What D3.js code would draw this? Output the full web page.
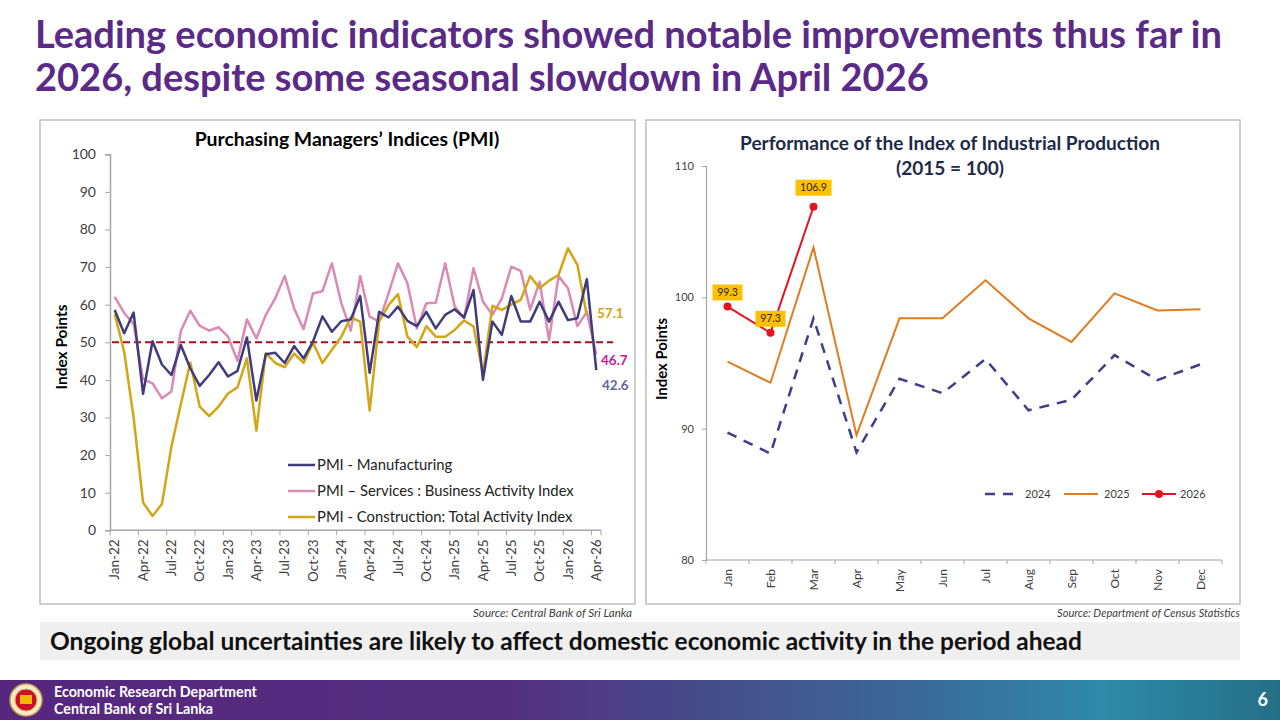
<!DOCTYPE html>
<html>
<head>
<meta charset="utf-8">
<script src="https://cdn.jsdelivr.net/npm/d3@7"></script>
<style>
  body { margin: 0; background: #fff; }
  svg { display: block; font-family: Lato, "Open Sans", sans-serif; }
</style>
</head>
<body>
<div id="slide"></div>
<script>
//PMI data, Jan-22 to Apr-26
var pmiMonths = [];
var monNames = ["Jan","Feb","Mar","Apr","May","Jun","Jul","Aug","Sep","Oct","Nov","Dec"];
for (var yr = 22; yr <= 26; yr++) {
  for (var m = 0; m < 12; m++) {
    if (yr == 26 && m > 3) break;
    pmiMonths.push(monNames[m] + "-" + yr);
  }
}
var pmiManufacturing = [58.6, 52.4, 57.9, 36.3, 50.3, 44.1, 41.3, 49.3, 43.1, 38.4, 41.3, 44.7,
  40.9, 42.4, 51.3, 34.5, 46.8, 47.2, 44.5, 49.0, 45.7, 50.2, 56.9, 52.8,
  55.6, 56.1, 62.3, 41.9, 58.1, 56.6, 59.5, 55.7, 54.3, 58.1, 53.7, 57.3,
  58.8, 56.6, 63.9, 40.0, 55.5, 52.0, 62.3, 55.5, 55.5, 60.8, 55.5, 60.8,
  55.9, 56.4, 66.8, 42.6];
var pmiServices = [62.1, 57.8, 54.9, 40.2, 39.1, 35.1, 36.9, 53.0, 58.4, 54.4, 53.1, 54.0,
  51.5, 45.1, 56.1, 51.0, 57.3, 61.7, 67.6, 59.0, 53.5, 63.0, 63.6, 71.0,
  60.4, 53.1, 67.6, 56.8, 55.5, 63.0, 71.0, 65.7, 53.7, 60.4, 60.5, 71.0,
  59.6, 56.4, 69.7, 60.8, 57.3, 61.7, 70.1, 69.0, 58.7, 66.1, 50.6, 67.6,
  64.4, 54.3, 58.1, 46.7];
var pmiConstruction = [57.5, 47.5, 30.0, 7.4, 3.8, 7.0, 22.2, 33.5, 44.6, 32.9, 30.4, 32.9,
  36.4, 38.0, 45.7, 26.5, 47.1, 44.5, 43.4, 47.0, 44.5, 49.9, 44.5, 48.0,
  51.5, 56.6, 55.5, 31.8, 55.5, 59.9, 62.8, 51.5, 48.7, 54.3, 51.5, 51.5,
  53.3, 55.8, 54.2, 41.8, 59.7, 58.6, 60.0, 61.3, 67.6, 64.4, 66.4, 67.9,
  75.0, 70.6, 57.1, null];
var pmiThreshold = 50;
var pmiYTicks = [0, 10, 20, 30, 40, 50, 60, 70, 80, 90, 100];

//IIP data (2015 = 100)
var iipMonths = ["Jan","Feb","Mar","Apr","May","Jun","Jul","Aug","Sep","Oct","Nov","Dec"];
var iip2024 = [89.7, 88.1, 98.4, 88.2, 93.8, 92.7, 95.3, 91.4, 92.2, 95.6, 93.7, 94.9];
var iip2025 = [95.1, 93.5, 103.8, 89.5, 98.4, 98.4, 101.3, 98.4, 96.6, 100.3, 99.0, 99.1];
var iip2026 = [99.3, 97.3, 106.9];
var iipYTicks = [80, 90, 100, 110];

var purple = "#5b2a86";

var svg = d3.select("#slide").append("svg")
  .attr("width", 1280)
  .attr("height", 720);

//shrink/grow font so text fills a given width
function fitText(sel, w) {
  var fs = parseFloat(sel.attr("font-size"));
  var len = sel.node().getComputedTextLength();
  sel.attr("font-size", (fs * w / len).toFixed(2));
  return sel;
}

//slide title
var title = svg.append("text")
  .attr("x", 35).attr("y", 48)
  .attr("font-size", 34).attr("font-weight", "bold")
  .attr("fill", purple)
  .text("Leading economic indicators showed notable improvements thus far in");
fitText(title, 1187);
svg.append("text")
  .attr("x", 35).attr("y", 91)
  .attr("font-size", title.attr("font-size")).attr("font-weight", "bold")
  .attr("fill", purple)
  .text("2026, despite some seasonal slowdown in April 2026");

//panel borders
svg.append("rect").attr("x", 40).attr("y", 120).attr("width", 595).attr("height", 484)
  .attr("fill", "none").attr("stroke", "#bfbfbf").attr("stroke-width", 1.5);
svg.append("rect").attr("x", 646).attr("y", 120).attr("width", 594).attr("height", 484)
  .attr("fill", "none").attr("stroke", "#bfbfbf").attr("stroke-width", 1.5);

// ---------------- left chart: PMI ----------------
var g1 = svg.append("g");

var x1 = d3.scaleBand().domain(pmiMonths).range([110, 601]);
var y1 = d3.scaleLinear().domain([0, 100]).range([530.3, 154.3]);
function cx1(d, i) { return x1(pmiMonths[i]) + x1.bandwidth() / 2; }

var t1 = g1.append("text")
  .attr("x", 347).attr("y", 146)
  .attr("text-anchor", "middle")
  .attr("font-size", 16).attr("font-weight", "bold")
  .text("Purchasing Managers\u2019 Indices (PMI)");
fitText(t1, 305);

//y axis
var yAx1 = g1.append("g")
  .attr("transform", "translate(110,0)")
  .call(d3.axisLeft(y1).tickValues(pmiYTicks).tickSize(5).tickPadding(9));
yAx1.selectAll("text").attr("font-size", 14).attr("fill", "#404040").attr("font-family", "Lato");
yAx1.selectAll("line").attr("stroke", "#a6a6a6");
yAx1.select(".domain").attr("stroke", "#a6a6a6").attr("stroke-width", 1.5);

var yl1 = g1.append("text")
  .attr("transform", "translate(67,347) rotate(-90)")
  .attr("text-anchor", "middle")
  .attr("font-size", 13).attr("font-weight", "bold")
  .text("Index Points");
fitText(yl1, 85);

//x axis line, ticks every 3 months at band edges
g1.append("line")
  .attr("x1", 110).attr("x2", 601).attr("y1", y1(0)).attr("y2", y1(0))
  .attr("stroke", "#a6a6a6").attr("stroke-width", 1.5);
var lblMonths1 = pmiMonths.filter(function(d, i) { return i % 3 == 0; });
g1.selectAll(".xt1")
  .data(lblMonths1.concat(["end"]))
  .enter().append("line")
  .attr("x1", function(d) { return d == "end" ? x1.range()[1] : x1(d); })
  .attr("x2", function(d) { return d == "end" ? x1.range()[1] : x1(d); })
  .attr("y1", y1(0)).attr("y2", y1(0) + 5)
  .attr("stroke", "#a6a6a6");
g1.selectAll(".xl1")
  .data(lblMonths1)
  .enter().append("text")
  .attr("transform", function(d) {
    return "translate(" + (x1(d) + x1.bandwidth() / 2) + "," + (y1(0) + 9) + ") rotate(-90)";
  })
  .attr("dy", "0.35em")
  .attr("text-anchor", "end")
  .attr("font-size", 13.5).attr("fill", "#404040")
  .text(function(d) { return d; });

//50 threshold
g1.append("line")
  .attr("x1", 112).attr("x2", 613)
  .attr("y1", y1(pmiThreshold)).attr("y2", y1(pmiThreshold))
  .attr("stroke", "#a50f1e").attr("stroke-width", 2)
  .attr("stroke-dasharray", "7,4");

var pmiSeries = [
  {name: "PMI - Manufacturing", values: pmiManufacturing, color: "#3f3c7c"},
  {name: "PMI \u2013 Services : Business Activity Index", values: pmiServices, color: "#d98ab5"},
  {name: "PMI - Construction: Total Activity Index", values: pmiConstruction, color: "#d4a514"}
];
var line1 = d3.line()
  .defined(function(d) { return d != null; })
  .x(cx1)
  .y(function(d) { return y1(d); });

//draw services first so manufacturing sits on top like the original
[1, 2, 0].forEach(function(k) {
  g1.append("path")
    .datum(pmiSeries[k].values)
    .attr("d", line1)
    .attr("fill", "none")
    .attr("stroke", pmiSeries[k].color)
    .attr("stroke-width", 2.5)
    .attr("stroke-linejoin", "round");
});

//end labels
var lastIdx = pmiMonths.length - 1;
g1.append("text")
  .attr("x", 597).attr("y", y1(pmiConstruction[lastIdx - 1]) + 2)
  .attr("font-size", 13.5).attr("font-weight", "bold").attr("fill", "#d4a514")
  .text(pmiConstruction[lastIdx - 1].toFixed(1));
g1.append("text")
  .attr("x", 601).attr("y", y1(pmiServices[lastIdx]) + 10)
  .attr("font-size", 13.5).attr("font-weight", "bold").attr("fill", "#cc1a96")
  .text(pmiServices[lastIdx].toFixed(1));
g1.append("text")
  .attr("x", 602).attr("y", y1(pmiManufacturing[lastIdx]) + 20)
  .attr("font-size", 13.5).attr("font-weight", "bold").attr("fill", "#67659c")
  .text(pmiManufacturing[lastIdx].toFixed(1));

//legend
var leg1 = g1.selectAll(".leg1")
  .data(pmiSeries)
  .enter().append("g")
  .attr("transform", function(d, i) { return "translate(288," + (465 + i * 26) + ")"; });
leg1.append("line")
  .attr("x1", 0).attr("x2", 27)
  .attr("stroke", function(d) { return d.color; })
  .attr("stroke-width", 2.5);
leg1.append("text")
  .attr("x", 29).attr("dy", "0.35em")
  .attr("font-size", 14.8).attr("fill", "#222")
  .text(function(d) { return d.name; });

var s1 = g1.append("text")
  .attr("x", 632).attr("y", 617)
  .attr("text-anchor", "end")
  .attr("font-size", 10).attr("font-style", "italic").attr("fill", "#404040")
  .text("Source: Central Bank of Sri Lanka");
fitText(s1, 159);

// ---------------- right chart: IIP ----------------
var g2 = svg.append("g");

var x2 = d3.scaleBand().domain(iipMonths).range([706, 1222]);
var y2 = d3.scaleLinear().domain([80, 110]).range([560, 166]);
function cx2(d, i) { return x2(iipMonths[i]) + x2.bandwidth() / 2; }

var t2 = g2.append("text")
  .attr("x", 950).attr("y", 150)
  .attr("text-anchor", "middle")
  .attr("font-size", 16).attr("font-weight", "bold").attr("fill", "#1f2a48")
  .text("Performance of the Index of Industrial Production");
fitText(t2, 420);
g2.append("text")
  .attr("x", 950).attr("y", 175)
  .attr("text-anchor", "middle")
  .attr("font-size", t2.attr("font-size")).attr("font-weight", "bold").attr("fill", "#1f2a48")
  .text("(2015 = 100)");

var yAx2 = g2.append("g")
  .attr("transform", "translate(706,0)")
  .call(d3.axisLeft(y2).tickValues(iipYTicks).tickSize(4).tickPadding(8));
yAx2.selectAll("text").attr("font-size", 11).attr("fill", "#404040").attr("font-family", "Lato");
yAx2.selectAll("line").attr("stroke", "#a6a6a6");
yAx2.select(".domain").attr("stroke", "#a6a6a6").attr("stroke-width", 1.2);

var yl2 = g2.append("text")
  .attr("transform", "translate(667,359) rotate(-90)")
  .attr("text-anchor", "middle")
  .attr("font-size", 12).attr("font-weight", "bold")
  .text("Index Points");
fitText(yl2, 82);

g2.append("line")
  .attr("x1", 706).attr("x2", 1222).attr("y1", y2(80)).attr("y2", y2(80))
  .attr("stroke", "#a6a6a6").attr("stroke-width", 1.2);
g2.selectAll(".xt2")
  .data(iipMonths.concat(["end"]))
  .enter().append("line")
  .attr("x1", function(d) { return d == "end" ? x2.range()[1] : x2(d); })
  .attr("x2", function(d) { return d == "end" ? x2.range()[1] : x2(d); })
  .attr("y1", y2(80)).attr("y2", y2(80) + 4)
  .attr("stroke", "#a6a6a6");
g2.selectAll(".xl2")
  .data(iipMonths)
  .enter().append("text")
  .attr("transform", function(d) {
    return "translate(" + (x2(d) + x2.bandwidth() / 2) + "," + (y2(80) + 9) + ") rotate(-90)";
  })
  .attr("dy", "0.35em")
  .attr("text-anchor", "end")
  .attr("font-size", 12).attr("fill", "#404040")
  .text(function(d) { return d; });

var line2 = d3.line().x(cx2).y(function(d) { return y2(d); });

g2.append("path").datum(iip2024)
  .attr("d", line2).attr("fill", "none")
  .attr("stroke", "#3d3d8c").attr("stroke-width", 2.5)
  .attr("stroke-dasharray", "10,8");
g2.append("path").datum(iip2025)
  .attr("d", line2).attr("fill", "none")
  .attr("stroke", "#e07b1f").attr("stroke-width", 2);
g2.append("path").datum(iip2026)
  .attr("d", line2).attr("fill", "none")
  .attr("stroke", "#e3141e").attr("stroke-width", 2);
g2.selectAll(".dot26")
  .data(iip2026)
  .enter().append("circle")
  .attr("cx", cx2)
  .attr("cy", function(d) { return y2(d); })
  .attr("r", 4)
  .attr("fill", "#e3141e");

//yellow data labels
var lab26 = g2.selectAll(".lab26")
  .data(iip2026)
  .enter().append("g")
  .attr("transform", function(d, i) {
    return "translate(" + cx2(d, i) + "," + (y2(d) - (i == 2 ? 19 : 14)) + ")";
  });
lab26.append("rect")
  .attr("x", function(d) { return d >= 100 ? -18 : -15; })
  .attr("y", -8)
  .attr("width", function(d) { return d >= 100 ? 36 : 30; })
  .attr("height", 16)
  .attr("fill", "#ffc000");
lab26.append("text")
  .attr("text-anchor", "middle").attr("dy", "0.35em")
  .attr("font-size", 10.5).attr("fill", "#262626")
  .text(function(d) { return d.toFixed(1); });

//legend
var leg2Data = [
  {name: "2024", color: "#3d3d8c", dash: "10,8", x: 985, dot: false},
  {name: "2025", color: "#e07b1f", dash: null, x: 1064, dot: false},
  {name: "2026", color: "#e3141e", dash: null, x: 1142, dot: true}
];
var leg2 = g2.selectAll(".leg2")
  .data(leg2Data)
  .enter().append("g")
  .attr("transform", function(d) { return "translate(" + d.x + ",494)"; });
leg2.append("line")
  .attr("x1", 0).attr("x2", 34)
  .attr("stroke", function(d) { return d.color; })
  .attr("stroke-width", function(d) { return d.dash ? 2.5 : 2; })
  .attr("stroke-dasharray", function(d) { return d.dash; });
leg2.filter(function(d) { return d.dot; }).append("circle")
  .attr("cx", 17).attr("r", 4).attr("fill", function(d) { return d.color; });
leg2.append("text")
  .attr("x", function(d) { return d.dot ? 38 : 40; }).attr("dy", "0.35em")
  .attr("font-size", 11).attr("fill", "#404040")
  .text(function(d) { return d.name; });

var s2 = g2.append("text")
  .attr("x", 1240).attr("y", 617)
  .attr("text-anchor", "end")
  .attr("font-size", 10).attr("font-style", "italic").attr("fill", "#404040")
  .text("Source: Department of Census Statistics");
fitText(s2, 183);

// ---------------- bottom message ----------------
svg.append("rect").attr("x", 40).attr("y", 622).attr("width", 1200).attr("height", 38)
  .attr("fill", "#efefef");
var msg = svg.append("text")
  .attr("x", 50).attr("y", 650)
  .attr("font-size", 20).attr("font-weight", "bold").attr("fill", "#111")
  .text("Ongoing global uncertainties are likely to affect domestic economic activity in the period ahead");
fitText(msg, 1032);

// ---------------- footer ----------------
var grad = svg.append("defs").append("linearGradient")
  .attr("id", "foot").attr("x1", "0").attr("x2", "1").attr("y1", "0").attr("y2", "0");
grad.append("stop").attr("offset", "0").attr("stop-color", "#57267f");
grad.append("stop").attr("offset", "0.4").attr("stop-color", "#52307f");
grad.append("stop").attr("offset", "0.72").attr("stop-color", "#3a6a98");
grad.append("stop").attr("offset", "0.86").attr("stop-color", "#2e8aa8");
grad.append("stop").attr("offset", "1").attr("stop-color", "#256f86");
svg.append("rect").attr("x", 0).attr("y", 680).attr("width", 1280).attr("height", 40)
  .attr("fill", "url(#foot)");

//bank emblem (simplified)
svg.append("circle").attr("cx", 26).attr("cy", 700).attr("r", 16)
  .attr("fill", "#f4ead0").attr("stroke", "#caa24e").attr("stroke-width", 1.5);
svg.append("circle").attr("cx", 26).attr("cy", 700).attr("r", 11)
  .attr("fill", "#c8102e").attr("stroke", "#e8b52c").attr("stroke-width", 1);
svg.append("rect").attr("x", 20).attr("y", 695).attr("width", 12).attr("height", 9)
  .attr("fill", "#f2b705");

var f1 = svg.append("text").attr("x", 54).attr("y", 697)
  .attr("font-size", 12.5).attr("font-weight", "bold").attr("fill", "#fff")
  .text("Economic Research Department");
fitText(f1, 203);
svg.append("text").attr("x", 54).attr("y", 714)
  .attr("font-size", f1.attr("font-size")).attr("font-weight", "bold").attr("fill", "#fff")
  .text("Central Bank of Sri Lanka");
svg.append("text").attr("x", 1268).attr("y", 706)
  .attr("text-anchor", "end")
  .attr("font-size", 18).attr("font-weight", "bold").attr("fill", "#fff")
  .text("6");
</script>
</body>
</html>
